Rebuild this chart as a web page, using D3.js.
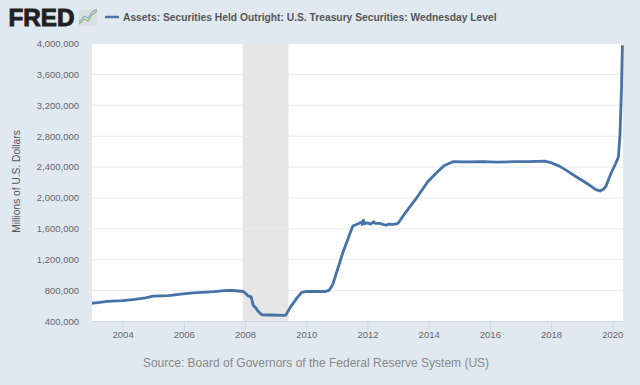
<!DOCTYPE html>
<html>
<head>
<meta charset="utf-8">
<script src="https://cdn.jsdelivr.net/npm/d3@7"></script>
<style>
	html, body { margin: 0; padding: 0; background: #e1e9f0; overflow: hidden; }
	text { font-family: "Liberation Sans", Arial, sans-serif; }
</style>
</head>
<body>
<div id="chart"></div>
<script>
// values (decimal year, millions of U.S. dollars)
const years = [2003.0, 2003.25, 2003.5, 2004.0, 2004.4, 2004.75, 2005.0, 2005.5, 2005.9, 2006.3, 2006.6, 2007.0, 2007.4, 2007.6, 2007.95,
	2008.05, 2008.1, 2008.2, 2008.27, 2008.35, 2008.42, 2008.55, 2008.8, 2009.25, 2009.33, 2009.5, 2009.7, 2009.85, 2010.0, 2010.64,
	2010.75, 2010.86, 2011.0, 2011.2, 2011.52, 2011.7, 2011.8, 2011.83, 2011.87, 2011.9, 2012.0, 2012.1, 2012.2, 2012.25, 2012.4, 2012.6, 2012.7, 2012.85, 2013.0,
	2013.2, 2013.6, 2013.97, 2014.24, 2014.5, 2014.79, 2015.2, 2015.8, 2016.2, 2016.8, 2017.3, 2017.78, 2018.0, 2018.27, 2018.5, 2018.82, 2019.1, 2019.36,
	2019.45, 2019.6, 2019.72, 2019.8, 2019.96, 2020.1, 2020.2, 2020.25, 2020.3, 2020.33];
const values = [630, 640, 655, 665, 680, 700, 722, 728, 748, 765, 772, 780, 797, 795, 782,
	745, 725, 712, 600, 570, 530, 480, 478, 472, 476, 590, 700, 770, 782, 782,
	800, 866, 1040, 1290, 1630, 1660, 1680, 1650, 1705, 1660, 1670, 1655, 1685, 1665, 1665, 1640, 1655, 1650, 1665,
	1780, 1990, 2204, 2312, 2410, 2463, 2460, 2465, 2458, 2463, 2465, 2470, 2450, 2406, 2350, 2268, 2200, 2130,
	2105, 2083, 2110, 2150, 2316, 2430, 2523, 2800, 3400, 3970];
const yearTicks = [2004, 2006, 2008, 2010, 2012, 2014, 2016, 2018, 2020];
const valueTicks = [400, 800, 1200, 1600, 2000, 2400, 2800, 3200, 3600, 4000];
const recessionStart = 2007.92;
const recessionEnd = 2009.42;
const seriesName = "Assets: Securities Held Outright: U.S. Treasury Securities: Wednesday Level";
const yTitle = "Millions of U.S. Dollars";
const sourceText = "Source: Board of Governors of the Federal Reserve System (US)";

const width = 640, height = 385;
const margin = {top: 43, right: 17, bottom: 64, left: 92};
const innerW = width - margin.left - margin.right;
const innerH = height - margin.top - margin.bottom;

const svg = d3.select("#chart").append("svg")
	.attr("width", width)
	.attr("height", height)
	.style("display", "block");

const g = svg.append("g").attr("transform", "translate(" + margin.left + "," + margin.top + ")");

const x = d3.scaleLinear().domain([2003.0, 2020.35]).range([0, innerW]);
const y = d3.scaleLinear().domain([400, 4000]).range([innerH, 0]);

// plot background
g.append("rect").attr("width", innerW).attr("height", innerH).attr("fill", "#fff");

// recession band
g.append("rect")
	.attr("x", x(recessionStart))
	.attr("width", x(recessionEnd) - x(recessionStart))
	.attr("height", innerH)
	.attr("fill", "#e6e6e6");

// y axis + grid
const yAxis = g.append("g").call(d3.axisLeft(y)
	.tickValues(valueTicks)
	.tickFormat(d => d3.format(",")(d * 1000))
	.tickSize(-innerW)
	.tickPadding(13));
yAxis.select(".domain").remove();
yAxis.selectAll("line").attr("stroke", "#e9e9e9").attr("stroke-width", 1);
yAxis.selectAll("text").attr("fill", "#666").style("font-size", "9.5px").attr("dy", "0.36em");

// x axis
const xAxis = g.append("g").attr("transform", "translate(0," + innerH + ")").call(d3.axisBottom(x)
	.tickValues(yearTicks)
	.tickFormat(d3.format("d"))
	.tickSize(10)
	.tickPadding(-1)
	.tickSizeOuter(0));
xAxis.select(".domain").attr("stroke", "#ccd6eb");
xAxis.selectAll("line").attr("stroke", "#ccd6eb");
xAxis.selectAll("text").attr("fill", "#666").style("font-size", "9.5px").attr("dy", "0.8em");

// series line
const line = d3.line().x((d, i) => x(years[i])).y(d => y(d));
g.append("path")
	.datum(values)
	.attr("d", line)
	.attr("fill", "none")
	.attr("stroke", "#4572a7")
	.attr("stroke-width", 2.8)
	.attr("stroke-linejoin", "round");

// y title
svg.append("text")
	.attr("transform", "translate(20,181.5) rotate(-90)")
	.attr("text-anchor", "middle")
	.attr("fill", "#555")
	.style("font-size", "10.2px")
	.text(yTitle);

// source
svg.append("text")
	.attr("x", 316)
	.attr("y", 367)
	.attr("text-anchor", "middle")
	.attr("fill", "#888")
	.style("font-size", "12px")
	.text(sourceText);

// legend
svg.append("line")
	.attr("x1", 105).attr("x2", 119)
	.attr("y1", 17).attr("y2", 17)
	.attr("stroke", "#4572a7")
	.attr("stroke-width", 2.5);
svg.append("text")
	.attr("x", 123)
	.attr("y", 21)
	.attr("fill", "#555")
	.style("font-size", "10.27px")
	.style("font-weight", "bold")
	.text(seriesName);

// FRED logo
svg.append("text")
	.attr("x", 8.5)
	.attr("y", 26)
	.attr("fill", "#231f20")
	.attr("stroke", "#231f20")
	.attr("stroke-width", 0.9)
	.attr("textLength", 66)
	.attr("lengthAdjust", "spacingAndGlyphs")
	.style("font-size", "23px")
	.style("font-weight", "bold")
	.text("FRED");

const logo = svg.append("g").attr("transform", "translate(79,9)");
logo.append("rect").attr("width", 18).attr("height", 17).attr("fill", "#d9dfe3");
logo.append("polyline")
	.attr("points", "0,15 5,10 9,12 13,6 18,2")
	.attr("fill", "none").attr("stroke", "#8fb56f").attr("stroke-width", 1.2);
logo.append("polyline")
	.attr("points", "0,13 5,7 9,9 13,3 18,0")
	.attr("fill", "none").attr("stroke", "#7f9dbb").attr("stroke-width", 1);
</script>
</body>
</html>
